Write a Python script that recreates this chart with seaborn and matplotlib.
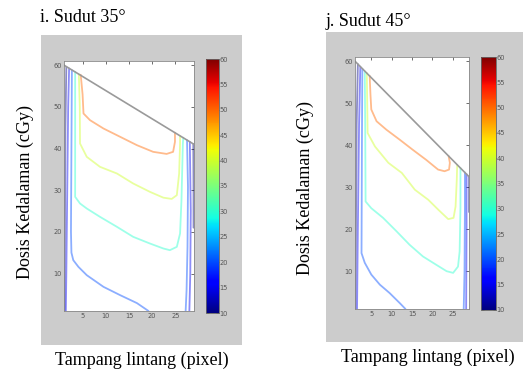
import numpy as np
import pandas as pd
import matplotlib
matplotlib.use("Agg")
import matplotlib.pyplot as plt
from matplotlib.patches import Rectangle
from matplotlib.colors import Normalize
from matplotlib.cm import ScalarMappable
import seaborn as sns

sns.set_style("white")
plt.rcParams["font.family"] = ["DejaVu Sans"]

# ---------------- data ----------------
levels = [10, 15, 20, 30, 40, 50]
x_ticks = [5, 10, 15, 20, 25]
y_ticks = [10, 20, 30, 40, 50, 60]
cbar_ticks = [10, 15, 20, 25, 30, 35, 40, 45, 50, 55, 60]

titles = ["i. Sudut 35\u00b0", "j. Sudut 45\u00b0"]
xlabel = "Tampang lintang (pixel)"
ylabel = "Dosis Kedalaman (cGy)"

# Panel i (35 deg)
p1_edge_x = [1, 29]
p1_edge_y = [60, 41]
p1_c50_x = [4.6, 5.0, 5.2, 6.6, 9.5, 13.1, 16.7, 20.2, 23.1, 24.5, 24.9, 24.9]
p1_c50_y = [57.7, 53, 48.4, 46.8, 44.8, 42.8, 40.8, 39.2, 38.7, 39.2, 41.6, 43.8]
p1_c40_x = [4.2, 4.4, 4.45, 5.9, 8.75, 12.4, 15.9, 19.5, 22.4, 24.2, 25.3, 25.8, 26.0, 26.0]
p1_c40_y = [57.8, 50, 41.2, 38.0, 35.6, 34.0, 31.6, 29.6, 28.2, 27.9, 28.8, 34.0, 41.2, 43.0]
p1_c30_x = [3.4, 3.4, 3.4, 4.45, 5.9, 8.75, 12.4, 15.9, 19.5, 22.4, 23.8, 25.3, 26.0, 26.3, 26.6, 26.7]
p1_c30_y = [58.4, 45, 28.4, 26.8, 25.6, 23.6, 21.2, 18.8, 17.2, 16.0, 15.6, 16.4, 19.6, 27.6, 41.2, 42.6]
p1_c20a_x = [2.7, 2.6, 2.5, 2.6, 3.0, 4.1, 5.9, 9.5, 13.1, 16.7, 19.2]
p1_c20a_y = [58.8, 40, 20, 15, 13.2, 11.6, 9.6, 6.8, 4.8, 2.9, 1.0]
p1_c20b_x = [27.2, 27.4, 27.6, 27.7, 27.5]
p1_c20b_y = [1, 6, 16.4, 30.8, 42.0]
p1_c15a_x = [2.1, 1.9, 1.7, 1.5, 1.4]
p1_c15a_y = [59.2, 50, 30, 10, 1]
p1_c15b_x = [28.1, 28.3, 28.2, 28.0]
p1_c15b_y = [41.6, 25, 10, 1]
p1_c10a_x = [1.5, 1.3, 1.2, 1.1]
p1_c10a_y = [59.6, 45, 20, 1]
p1_c10b_x = [28.85, 28.9, 28.9]
p1_c10b_y = [41.1, 30, 21]

# Panel j (45 deg)
p2_edge_x = [1, 29]
p2_edge_y = [60, 32.5]
p2_c50_x = [4.6, 4.8, 5.0, 6.3, 8.7, 12.0, 15.2, 18.5, 21.4, 23.0, 24.1, 24.3, 24.0]
p2_c50_y = [56.5, 52, 48.5, 45.7, 43.7, 41.3, 38.9, 36.5, 34.2, 33.8, 34.2, 35.8, 37.4]
p2_c40_x = [3.9, 4.0, 4.1, 5.9, 9.2, 12.5, 15.7, 19.0, 21.5, 23.9, 25.2, 25.7, 26.0, 26.1]
p2_c40_y = [57.2, 50, 42.9, 39.7, 35.8, 33.4, 29.4, 27.0, 24.6, 22.4, 22.7, 25.4, 31.8, 35.3]
p2_c30_x = [3.4, 3.5, 3.6, 5.0, 7.9, 11.2, 14.4, 17.7, 21.0, 23.5, 25.1, 26.3, 26.7, 26.9, 26.9]
p2_c30_y = [57.6, 45, 26.6, 25.0, 22.7, 19.5, 16.3, 13.5, 11.5, 10.0, 9.6, 11.1, 14.7, 25.0, 34.6]
p2_c20a_x = [2.8, 2.7, 2.6, 3.4, 5.0, 7.1, 9.5, 12.0, 13.4]
p2_c20a_y = [58.2, 40, 14.3, 12.0, 9.2, 6.8, 4.8, 2.4, 1.0]
p2_c20b_x = [27.7, 27.9, 28.0, 28.0]
p2_c20b_y = [1, 10, 25, 33.5]
p2_c15a_x = [2.3, 2.0, 1.7, 1.5]
p2_c15a_y = [58.7, 45, 20, 1]
p2_c15b_x = [28.4, 28.4, 28.3]
p2_c15b_y = [33.1, 20, 1]
p2_c10a_x = [1.7, 1.4, 1.2, 1.1]
p2_c10a_y = [59.3, 45, 16, 1]
p2_c10b_x = [28.9, 28.9]
p2_c10b_y = [32.6, 24.2]

panel1 = [(50, p1_c50_x, p1_c50_y), (40, p1_c40_x, p1_c40_y), (30, p1_c30_x, p1_c30_y),
          (20, p1_c20a_x, p1_c20a_y), (20, p1_c20b_x, p1_c20b_y),
          (15, p1_c15a_x, p1_c15a_y), (15, p1_c15b_x, p1_c15b_y),
          (10, p1_c10a_x, p1_c10a_y), (10, p1_c10b_x, p1_c10b_y)]
panel2 = [(50, p2_c50_x, p2_c50_y), (40, p2_c40_x, p2_c40_y), (30, p2_c30_x, p2_c30_y),
          (20, p2_c20a_x, p2_c20a_y), (20, p2_c20b_x, p2_c20b_y),
          (15, p2_c15a_x, p2_c15a_y), (15, p2_c15b_x, p2_c15b_y),
          (10, p2_c10a_x, p2_c10a_y), (10, p2_c10b_x, p2_c10b_y)]


def to_frame(segments):
    rows = []
    for i, (lev, xs, ys) in enumerate(segments):
        for j, (x, y) in enumerate(zip(xs, ys)):
            rows.append({"x": x, "y": y, "level": lev, "seg": i, "order": j})
    return pd.DataFrame(rows)


# ---------------- figure ----------------
W, H = 523, 369
fig = plt.figure(figsize=(W / 100, H / 100), dpi=100)
fig.patch.set_facecolor("white")


def frac_rect(x0, y0, x1, y1):
    return [x0 / W, (H - y1) / H, (x1 - x0) / W, (y1 - y0) / H]


cmap = plt.get_cmap("jet")
norm = Normalize(10, 60)
palette = {lev: cmap(norm(lev)) for lev in levels}

layout = [
    dict(bg=(41, 35, 242, 345), ax=(64, 61, 194, 311), cb=(206, 59, 219, 313),
         title=(40, 18), ylab=(25, 192), xlab=(142, 360),
         segs=panel1, ex=p1_edge_x, ey=p1_edge_y),
    dict(bg=(326, 32, 523, 342), ax=(355, 57, 469, 309), cb=(481, 57, 496, 310),
         title=(326, 22), ylab=(305, 188), xlab=(428, 357),
         segs=panel2, ex=p2_edge_x, ey=p2_edge_y),
]

serif = ["Liberation Serif", "DejaVu Serif"]

for k, L in enumerate(layout):
    x0, y0, x1, y1 = L["bg"]
    bg = Rectangle((x0 / W, (H - y1) / H), (x1 - x0) / W, (y1 - y0) / H,
                   transform=fig.transFigure, facecolor="#cccccc",
                   edgecolor="none", zorder=-10)
    fig.add_artist(bg)
    ax = fig.add_axes(frac_rect(*L["ax"]))
    ax.set_zorder(2)
    ax.set_facecolor("white")
    df = to_frame(L["segs"])
    sns.lineplot(data=df, x="x", y="y", hue="level", units="seg", estimator=None,
                 sort=False, palette=palette, legend=False, linewidth=1.3,
                 alpha=0.45, ax=ax)
    edge = pd.DataFrame({"x": L["ex"], "y": L["ey"]})
    sns.lineplot(data=edge, x="x", y="y", color="#9a9a9a", linewidth=1.2, ax=ax,
                 estimator=None, sort=False)
    ax.set_xlim(1, 29)
    ax.set_ylim(1, 61)
    ax.set_xticks(x_ticks)
    ax.set_yticks(y_ticks)
    ax.tick_params(direction="in", length=2.5, width=0.6, labelsize=4.8,
                   colors="#555555", top=True, right=True, pad=1.5)
    for s in ax.spines.values():
        s.set_color("#888888")
        s.set_linewidth(0.6)
    ax.set_xlabel("")
    ax.set_ylabel("")

    cax = fig.add_axes(frac_rect(*L["cb"]))
    cax.set_zorder(2)
    cb = fig.colorbar(ScalarMappable(norm=norm, cmap=cmap), cax=cax)
    cb.set_ticks(cbar_ticks)
    cax.tick_params(direction="in", length=2, width=0.5, labelsize=4.8,
                    colors="#555555", pad=0.5, left=True)
    cb.outline.set_edgecolor("#666666")
    cb.outline.set_linewidth(0.6)

    tx, ty = L["title"]
    fig.text(tx / W, (H - ty) / H, titles[k], family=serif, fontsize=13,
             ha="left", va="center", color="black")
    lx, ly = L["ylab"]
    fig.text(lx / W, (H - ly) / H, ylabel, family=serif, fontsize=13,
             rotation=90, ha="center", va="center", color="black")
    bx, by = L["xlab"]
    fig.text(bx / W, (H - by) / H, xlabel, family=serif, fontsize=13,
             ha="center", va="center", color="black")

fig.savefig("out.png", dpi=100)
